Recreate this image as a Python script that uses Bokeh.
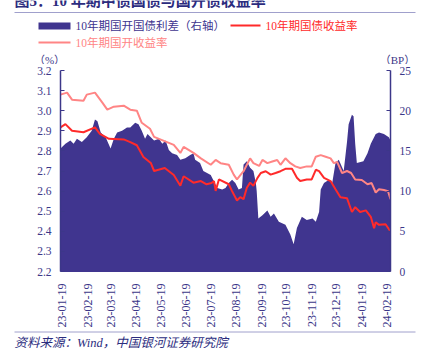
import math
import pandas as pd
from bokeh.plotting import figure
from bokeh.models import (Range1d, LinearAxis, FixedTicker, DatetimeTickFormatter,
                          NumeralTickFormatter, ColumnDataSource)
from bokeh.layouts import column
from bokeh.embed import file_html
from bokeh.resources import INLINE
from bokeh.core.properties import value

# ---------------- data ----------------
spread_dates = ["2023-01-17", "2023-01-23", "2023-01-29", "2023-02-02", "2023-02-06", "2023-02-12",
                "2023-02-18", "2023-02-24", "2023-02-28", "2023-03-03", "2023-03-07", "2023-03-13",
                "2023-03-19", "2023-03-23", "2023-03-27", "2023-04-02", "2023-04-08", "2023-04-12",
                "2023-04-18", "2023-04-22", "2023-04-26", "2023-04-30", "2023-05-03", "2023-05-11",
                "2023-05-17", "2023-05-21", "2023-05-25", "2023-05-29", "2023-06-02", "2023-06-08",
                "2023-06-12", "2023-06-18", "2023-06-24", "2023-06-28", "2023-06-30", "2023-07-06",
                "2023-07-10", "2023-07-19", "2023-07-23", "2023-07-27", "2023-08-02", "2023-08-06",
                "2023-08-10", "2023-08-14", "2023-08-18", "2023-08-22", "2023-08-26", "2023-08-28",
                "2023-09-01", "2023-09-05", "2023-09-09", "2023-09-12", "2023-09-13", "2023-09-15",
                "2023-09-20", "2023-09-26", "2023-09-30", "2023-10-04", "2023-10-10", "2023-10-18",
                "2023-10-24", "2023-10-28", "2023-11-01", "2023-11-07", "2023-11-13", "2023-11-20",
                "2023-11-24", "2023-11-28", "2023-11-30", "2023-12-04", "2023-12-10", "2023-12-14",
                "2023-12-18", "2023-12-22", "2023-12-28", "2024-01-01", "2024-01-03", "2024-01-07",
                "2024-01-09", "2024-01-11", "2024-01-13", "2024-01-21", "2024-01-26", "2024-01-30",
                "2024-02-05", "2024-02-09", "2024-02-15", "2024-02-21", "2024-02-23"]
spread_bp = [15.3, 15.9, 16.3, 15.9, 16.5, 16.1,
             16.7, 17.5, 18.9, 18.7, 17.3, 16.7,
             15.3, 16.5, 17.3, 17.5, 17.9, 17.9,
             18.5, 18.3, 17.5, 16.5, 17.1, 16.3,
             16.5, 15.9, 16.3, 15.1, 14.7, 14.5,
             13.9, 14.1, 14.5, 14.7, 13.9, 13.5,
             12.5, 12.0, 11.2, 10.4, 10.2, 10.4,
             11.0, 11.4, 11.0, 10.2, 10.4, 13.3,
             13.7, 12.9, 12.5, 11.0, 10.0, 6.6,
             7.0, 7.6, 6.8, 7.2, 6.2, 5.8,
             4.6, 3.4, 5.4, 6.8, 6.4, 6.6,
             6.2, 7.4, 10.2, 11.0, 11.4, 11.0,
             13.5, 13.9, 12.5, 16.1, 18.3, 19.5,
             19.3, 15.9, 13.5, 13.7, 14.7, 15.9,
             17.1, 17.3, 17.1, 16.7, 16.3]

cdb_dates = ["2023-01-17", "2023-01-25", "2023-01-31", "2023-02-14", "2023-02-18", "2023-02-28",
             "2023-03-09", "2023-03-15", "2023-03-23", "2023-04-04", "2023-04-12", "2023-04-20",
             "2023-04-26", "2023-05-06", "2023-05-11", "2023-05-23", "2023-06-04", "2023-06-12",
             "2023-06-16", "2023-06-28", "2023-07-07", "2023-07-19", "2023-07-25", "2023-07-31",
             "2023-08-10", "2023-08-16", "2023-08-20", "2023-08-28", "2023-09-01", "2023-09-05",
             "2023-09-09", "2023-09-16", "2023-09-20", "2023-09-26", "2023-10-02", "2023-10-08",
             "2023-10-12", "2023-10-18", "2023-10-24", "2023-10-30", "2023-11-05", "2023-11-13",
             "2023-11-19", "2023-11-24", "2023-11-30", "2023-12-06", "2023-12-12", "2023-12-16",
             "2023-12-20", "2023-12-26", "2024-01-01", "2024-01-06", "2024-01-11", "2024-01-19",
             "2024-01-26", "2024-01-31", "2024-02-05", "2024-02-09", "2024-02-15", "2024-02-20",
             "2024-02-23"]
cdb_yield = [3.080, 3.090, 3.055, 3.050, 3.080, 3.090,
             3.040, 3.005, 3.020, 3.025, 3.005, 3.000,
             2.940, 2.910, 2.870, 2.850, 2.830, 2.790,
             2.820, 2.790, 2.763, 2.731, 2.755, 2.739,
             2.731, 2.682, 2.658, 2.699, 2.731, 2.763,
             2.739, 2.725, 2.755, 2.739, 2.747, 2.755,
             2.731, 2.763, 2.739, 2.723, 2.715, 2.723,
             2.723, 2.771, 2.779, 2.771, 2.763, 2.739,
             2.745, 2.690, 2.700, 2.690, 2.658, 2.655,
             2.634, 2.640, 2.593, 2.609, 2.605, 2.600,
             2.560]

gov_dates = ["2023-01-17", "2023-01-23", "2023-01-31", "2023-02-14", "2023-02-28", "2023-03-06",
             "2023-03-17", "2023-04-04", "2023-04-12", "2023-04-20", "2023-04-28", "2023-05-07",
             "2023-05-11", "2023-05-24", "2023-06-04", "2023-06-12", "2023-06-16", "2023-06-28",
             "2023-07-07", "2023-07-14", "2023-07-20", "2023-07-23", "2023-07-25", "2023-07-29",
             "2023-08-10", "2023-08-14", "2023-08-20", "2023-08-24", "2023-08-28", "2023-09-01",
             "2023-09-05", "2023-09-09", "2023-09-14", "2023-09-18", "2023-09-24", "2023-09-30",
             "2023-10-06", "2023-10-12", "2023-10-18", "2023-10-26", "2023-11-01", "2023-11-05",
             "2023-11-13", "2023-11-19", "2023-11-24", "2023-11-28", "2023-12-04", "2023-12-12",
             "2023-12-18", "2023-12-24", "2024-01-01", "2024-01-07", "2024-01-11", "2024-01-17",
             "2024-01-24", "2024-01-30", "2024-02-03", "2024-02-05", "2024-02-09", "2024-02-17",
             "2024-02-23"]
gov_yield = [2.917, 2.933, 2.900, 2.893, 2.917, 2.885,
             2.860, 2.857, 2.844, 2.828, 2.770, 2.740,
             2.700, 2.715, 2.680, 2.627, 2.674, 2.642,
             2.650, 2.634, 2.640, 2.650, 2.601, 2.658,
             2.634, 2.600, 2.553, 2.570, 2.560, 2.617,
             2.642, 2.626, 2.666, 2.690, 2.699, 2.682,
             2.690, 2.699, 2.711, 2.711, 2.666, 2.650,
             2.658, 2.658, 2.706, 2.699, 2.666, 2.650,
             2.609, 2.569, 2.565, 2.496, 2.520, 2.496,
             2.504, 2.472, 2.415, 2.445, 2.432, 2.435,
             2.399]

tick_dates = ["2023-01-19", "2023-02-19", "2023-03-19", "2023-04-19", "2023-05-19", "2023-06-19",
              "2023-07-19", "2023-08-19", "2023-09-19", "2023-10-19", "2023-11-19", "2023-12-19",
              "2024-01-19", "2024-02-19"]
left_ticks = [2.2, 2.3, 2.4, 2.5, 2.6, 2.7, 2.8, 2.9, 3.0, 3.1, 3.2]
right_ticks = [0, 5, 10, 15, 20, 25]

title_text = "图5：10 年期中债国债与国开债收益率"
name_spread = "10年期国开国债利差（右轴）"
name_gov = "10年期国债收益率"
name_cdb = "10年期国开收益率"
unit_left = "（%）"
unit_right = "（BP）"
source_text = "资料来源：Wind，中国银河证券研究院"

# ---------------- styles ----------------
AREA = "#40358f"
RED = "#ff2a2a"
PINK = "#ff8585"
AXIS = "#3c3789"
NAVY = "#2b2c7e"
RULE = "#a0a0cc"
FONT = value("'Liberation Serif', 'Noto Sans CJK SC'")
FONT_S = "'Liberation Serif', 'Noto Sans CJK SC'"
W = 423
HH = 64

# ---------------- header ----------------
hd = figure(width=W, height=HH, x_range=Range1d(0, W), y_range=Range1d(HH, 0),
            output_backend="svg", toolbar_location=None, x_axis_location=None,
            y_axis_location=None, min_border=0, outline_line_color=None, frame_align=False)
hd.xgrid.visible = False
hd.ygrid.visible = False
hd.text(x=[14], y=[0], text=[title_text], text_font=FONT, text_font_size="15px",
        text_font_style="bold", text_color=NAVY, text_baseline="middle", text_align="left")
hd.segment(x0=[14], y0=[12], x1=[415], y1=[12], line_color=RULE, line_width=1)
hd.quad(left=[38], right=[70], top=[22], bottom=[29], fill_color=AREA, line_color=None)
hd.text(x=[75], y=[25.5], text=[name_spread], text_font=FONT, text_font_size="11.5px",
        text_color=AREA, text_baseline="middle")
hd.segment(x0=[230], y0=[25], x1=[260], y1=[25], line_color=RED, line_width=2)
hd.text(x=[265], y=[25.5], text=[name_gov], text_font=FONT, text_font_size="11.5px",
        text_color=RED, text_baseline="middle")
hd.segment(x0=[38], y0=[42], x1=[70], y1=[42], line_color=PINK, line_width=2)
hd.text(x=[75], y=[42.5], text=[name_cdb], text_font=FONT, text_font_size="11.5px",
        text_color=PINK, text_baseline="middle")
hd.text(x=[49], y=[59], text=[unit_left], text_font=FONT, text_font_size="11px",
        text_color=AXIS, text_baseline="middle", text_align="center")
hd.text(x=[397], y=[59], text=[unit_right], text_font=FONT, text_font_size="11px",
        text_color=AXIS, text_baseline="middle", text_align="center")

# ---------------- main chart ----------------
sp = ColumnDataSource(dict(x=pd.to_datetime(spread_dates), y=spread_bp))
cd = ColumnDataSource(dict(x=pd.to_datetime(cdb_dates), y=cdb_yield))
gv = ColumnDataSource(dict(x=pd.to_datetime(gov_dates), y=gov_yield))

x_start = pd.Timestamp(spread_dates[0])
x_end = pd.Timestamp(spread_dates[-1])

p = figure(width=W, height=330 - HH, x_axis_type="datetime",
           x_range=Range1d(x_start, x_end), y_range=Range1d(2.2, 3.2),
           output_backend="svg", toolbar_location=None,
           min_border_left=60, min_border_right=33, min_border_top=70 - HH, min_border_bottom=54,
           outline_line_color=None, frame_align=False)
p.extra_y_ranges = {"bp": Range1d(0, 25)}
p.xgrid.visible = False
p.ygrid.visible = False

p.varea(x="x", y1=0, y2="y", source=sp, y_range_name="bp", fill_color=AREA)
p.line(x="x", y="y", source=cd, line_color=PINK, line_width=2)
p.line(x="x", y="y", source=gv, line_color=RED, line_width=2)

# left axis
ya = p.yaxis[0]
ya.ticker = FixedTicker(ticks=left_ticks)
ya.formatter = NumeralTickFormatter(format="0.0")

# right axis
ra = LinearAxis(y_range_name="bp", ticker=FixedTicker(ticks=right_ticks))
p.add_layout(ra, "right")

for ax in (ya, ra):
    ax.axis_line_color = AXIS
    ax.axis_line_width = 1.5
    ax.major_tick_line_color = AXIS
    ax.major_tick_in = 4
    ax.major_tick_out = 0
    ax.minor_tick_line_color = None
    ax.major_label_text_font = FONT_S
    ax.major_label_text_font_size = "11.5px"
    ax.major_label_text_color = AXIS
    ax.major_label_standoff = 9

xa = p.xaxis[0]
xa.ticker = FixedTicker(ticks=[pd.Timestamp(d).value / 1e6 for d in tick_dates])
fmt = "%y-%m-%d"
xa.formatter = DatetimeTickFormatter(milliseconds=fmt, seconds=fmt, minsec=fmt, minutes=fmt,
                                     hourmin=fmt, hours=fmt, days=fmt, months=fmt, years=fmt)
xa.major_label_orientation = math.pi / 2
xa.axis_line_color = AREA
xa.major_tick_line_color = None
xa.minor_tick_line_color = None
xa.major_label_text_font = FONT_S
xa.major_label_text_font_size = "12px"
xa.major_label_text_color = AXIS
xa.major_label_standoff = 6

# ---------------- footer ----------------
ft = figure(width=W, height=26, x_range=Range1d(0, W), y_range=Range1d(26, 0),
            output_backend="svg", toolbar_location=None, x_axis_location=None,
            y_axis_location=None, min_border=0, outline_line_color=None, frame_align=False)
ft.xgrid.visible = False
ft.ygrid.visible = False
ft.segment(x0=[14], y0=[1.5], x1=[415], y1=[1.5], line_color=RULE, line_width=1)
ft.text(x=[14], y=[12], text=[source_text], text_font=FONT, text_font_size="12.5px",
        text_font_style="italic", text_color=NAVY, text_baseline="middle")

layout = column(hd, p, ft, spacing=0)
open("out.html", "w").write(file_html(layout, INLINE))
